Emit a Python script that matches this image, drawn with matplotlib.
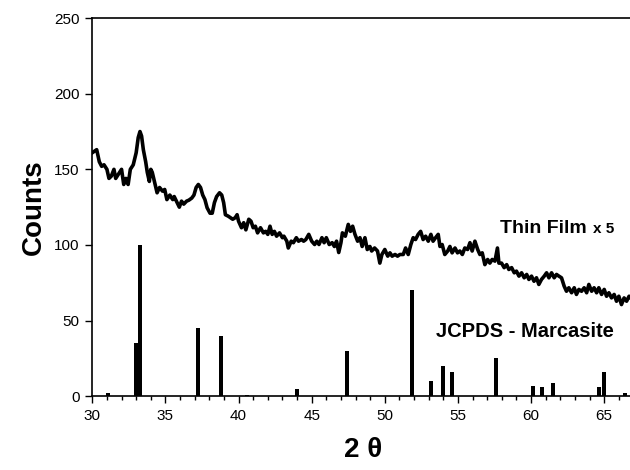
import matplotlib

matplotlib.use("Agg")
import matplotlib.pyplot as plt
from matplotlib.ticker import MultipleLocator

plt.rcParams["font.family"] = ["Liberation Sans", "DejaVu Sans"]

# thin film scan (x 5)
film_2theta = [
    30.0, 30.3, 30.48, 30.64, 30.8, 31.0, 31.14, 31.3, 31.48, 31.6, 31.77, 32.0, 32.15, 32.3,
    32.45, 32.6, 32.8, 33.0, 33.14, 33.26, 33.37, 33.49, 33.65, 33.76, 33.9, 34.0, 34.1, 34.27,
    34.43, 34.6, 34.8, 34.95, 35.1, 35.3, 35.5, 35.6, 35.8, 35.95, 36.1, 36.25, 36.45, 36.6,
    36.8, 36.95, 37.1, 37.25, 37.4, 37.55, 37.7, 37.85, 38.05, 38.2, 38.35, 38.5, 38.7, 38.85,
    38.98, 39.1, 39.3, 39.45, 39.6, 39.77, 39.9, 40.0, 40.2, 40.35, 40.5, 40.7, 40.85, 41.0,
    41.15, 41.3, 41.5, 41.7, 41.85, 42.0, 42.15, 42.3, 42.45, 42.6, 42.8, 43.0, 43.1, 43.3,
    43.4, 43.6, 43.75, 43.95, 44.1, 44.3, 44.45, 44.6, 44.8, 45.0, 45.2, 45.35, 45.5, 45.7,
    45.85, 46.0, 46.2, 46.4, 46.55, 46.7, 46.85, 47.0, 47.1, 47.3, 47.5, 47.65, 47.8, 47.96,
    48.14, 48.3, 48.45, 48.64, 48.8, 48.98, 49.1, 49.3, 49.5, 49.66, 49.8, 50.0, 50.2, 50.35,
    50.5, 50.7, 50.87, 51.03, 51.26, 51.42, 51.6, 51.78, 51.94, 52.1, 52.28, 52.45, 52.62,
    52.79, 52.97, 53.15, 53.3, 53.47, 53.65, 53.77, 53.92, 54.1, 54.3, 54.45, 54.6, 54.8,
    54.97, 55.13, 55.3, 55.47, 55.66, 55.82, 55.97, 56.16, 56.35, 56.5, 56.66, 56.84, 57.03,
    57.18, 57.34, 57.53, 57.7, 57.8, 57.98, 58.16, 58.33, 58.48, 58.67, 58.85, 59.0, 59.17,
    59.35, 59.53, 59.7, 59.85, 60.03, 60.2, 60.37, 60.53, 60.71, 60.9, 61.06, 61.22, 61.4,
    61.58, 61.74, 61.9, 62.08, 62.26, 62.42, 62.58, 62.77, 62.95, 63.1, 63.27, 63.45, 63.63,
    63.8, 63.95, 64.14, 64.31, 64.48, 64.63, 64.82, 65.0, 65.16, 65.32, 65.5, 65.68, 65.84,
    66.0, 66.18, 66.36, 66.53, 66.7, 67.0,
]
film_counts = [
    161, 163, 155, 152, 153, 150, 144, 145.5, 150, 144, 146.6, 150, 140, 144,
    140, 150, 153, 161, 171, 175, 172, 163, 155, 148, 142, 150, 148, 141,
    134.5, 138, 135.6, 136.7, 130, 133, 130, 132, 128, 125, 129, 127, 129, 129.6,
    131, 133, 138, 140, 138, 133, 130, 124.6, 121, 121, 128, 132, 134.5, 133,
    128, 120, 119, 118, 117, 118, 120, 115.7, 111.4, 114.7, 110, 117, 115.7, 111.4,
    112.4, 108, 111.4, 108, 109, 107, 112.4, 107, 109, 105.8, 108, 104.8, 105.8, 102.5,
    98, 102.5, 101.5, 104.8, 102.5, 103.6, 102.5, 103.6, 107, 102.5, 100.3, 102.5, 100.3, 104.8,
    101.5, 104.8, 100.3, 101.5, 99, 102.5, 95, 101.5, 108, 105.8, 113.6, 109, 112.4, 107,
    102.5, 104.8, 99, 104.8, 97, 99, 96, 98, 96, 88, 93.7, 97, 92.6, 94.8,
    92.6, 93.7, 92.6, 93.7, 93.7, 98, 93.7, 100.3, 104.8, 103.6, 107, 109, 103.6,
    105.8, 102.5, 107, 102.5, 104.8, 107, 99, 100.3, 93.7, 96, 99, 94.8, 98,
    94.8, 96, 93.7, 98, 97, 101.5, 96, 102.5, 97, 93.7, 94.8, 87, 90.4,
    88, 90.4, 89.3, 98, 88, 88, 85, 87, 83.8, 85, 81.6, 82.7, 79.4,
    81.6, 78.3, 80.5, 77.2, 79.4, 76, 78.3, 73.9, 77.2, 79.4, 81.6, 78.3, 81.6,
    78.3, 80.5, 79.4, 78.3, 72.8, 69.4, 71.7, 68.4, 71.7, 67.3, 70.6, 69.4, 71.7,
    68.4, 73.9, 69.4, 71.7, 68.4, 71.7, 67.3, 70.6, 66.1, 68.4, 65, 67.3, 62.8,
    66.1, 60.6, 65, 62.8, 66.1, 63,
]

# JCPDS marcasite reference lines
ref_2theta = [31.1, 33.0, 33.26, 37.2, 38.82, 40.6, 43.97, 47.43, 51.87, 53.15, 53.95,
              54.6, 57.57, 60.15, 60.72, 61.47, 64.63, 64.98, 66.45]
ref_intensity = [2, 35, 100, 45, 40, 1, 5, 30, 70, 10, 20,
                 16, 25, 7, 6, 9, 6, 16, 2]

fig = plt.figure(figsize=(6.3, 4.7), dpi=100)
ax = fig.add_axes([0.1465, 0.157, 0.859, 0.8045])

ax.bar(ref_2theta, ref_intensity, width=0.27, color="black", align="center")
ax.plot(film_2theta, film_counts, color="black", linewidth=2.6)

ax.set_xlim(30, 67)
ax.set_ylim(0, 250)
ax.xaxis.set_major_locator(MultipleLocator(5))
ax.xaxis.set_minor_locator(MultipleLocator(1))
ax.yaxis.set_major_locator(MultipleLocator(50))
ax.tick_params(axis="both", which="major", direction="out", length=5, width=1, labelsize=11, pad=4)
ax.tick_params(axis="x", which="minor", direction="out", length=3, width=1)
ax.spines["right"].set_visible(False)
for side in ("left", "bottom", "top"):
    ax.spines[side].set_linewidth(1.2)

ax.set_ylabel("Counts", fontsize=20, fontweight="bold", labelpad=5)
ax.set_xlabel("2 θ", fontsize=20, fontweight="bold", labelpad=10)

ax.text(57.9, 108, "Thin Film", fontsize=14, fontweight="bold")
ax.text(64.2, 108, "x 5", fontsize=11, fontweight="bold")
ax.text(53.5, 39, "JCPDS - Marcasite", fontsize=14.5, fontweight="bold")

fig.savefig("out.png", dpi=100)
plt.close(fig)
